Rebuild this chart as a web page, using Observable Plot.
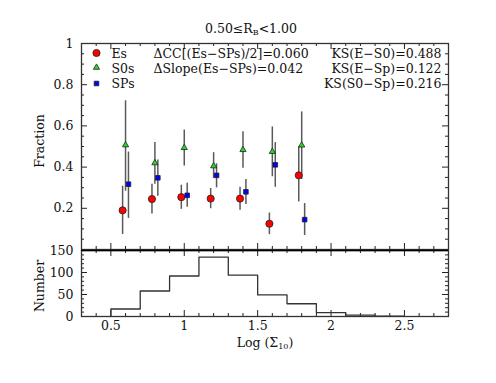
<!DOCTYPE html>
<html>
<head>
<meta charset="utf-8">
<script src="https://cdn.jsdelivr.net/npm/d3@7"></script>
<script src="https://cdn.jsdelivr.net/npm/@observablehq/plot@0.6"></script>
<style>
  html, body { margin: 0; padding: 0; background: #fff; }
  #wrap { position: relative; width: 496px; height: 383px; font-family: "DejaVu Serif", serif; color: #111; }
  #wrap svg { position: absolute; left: 0; overflow: visible; }
  .lbl { position: absolute; font-size: 12.5px; line-height: 1; white-space: nowrap; transform: translate(-50%, -50%); }
  .lbl.rot { transform: translate(-50%, -50%) rotate(-90deg); }
  .lbl sub { font-size: 8px; vertical-align: -2px; }
</style>
</head>
<body>
<div id="wrap"></div>
<script>
// ---------- data ----------
const esX  = [0.58, 0.78, 0.98, 1.18, 1.38, 1.58, 1.78];
const esF  = [0.190, 0.245, 0.254, 0.247, 0.247, 0.125, 0.360];
const esLo = [0.073, 0.172, 0.195, 0.198, 0.190, 0.072, 0.231];
const esHi = [0.307, 0.317, 0.312, 0.296, 0.302, 0.177, 0.500];

const s0X  = [0.60, 0.80, 1.00, 1.20, 1.40, 1.60, 1.80];
const s0F  = [0.507, 0.420, 0.494, 0.405, 0.484, 0.475, 0.506];
const s0Lo = [0.283, 0.317, 0.405, 0.345, 0.394, 0.353, 0.340];
const s0Hi = [0.722, 0.519, 0.580, 0.470, 0.571, 0.595, 0.668];

const spX  = [0.62, 0.82, 1.02, 1.22, 1.42, 1.62, 1.82];
const spF  = [0.317, 0.348, 0.263, 0.360, 0.280, 0.411, 0.145];
const spLo = [0.151, 0.259, 0.205, 0.299, 0.218, 0.302, 0.068];
const spHi = [0.473, 0.434, 0.322, 0.416, 0.340, 0.519, 0.223];

const binEdges  = [0.5, 0.7, 0.9, 1.1, 1.3, 1.5, 1.7, 1.9, 2.1, 2.3, 2.5];
const binCounts = [17, 58, 92, 135, 94, 49, 29, 9, 3, 1];

const xMajor = [0.5, 1, 1.5, 2, 2.5];
const xMinor = d3.range(4, 28).map(d => d / 10).filter(v => !xMajor.some(m => Math.abs(m - v) < 1e-9));
const yTopMajor = [0.2, 0.4, 0.6, 0.8, 1];
const yTopMinor = d3.range(1, 20).map(d => d / 20).filter(v => Math.abs(v * 5 - Math.round(v * 5)) > 1e-9);
const yBotMajor = [0, 50, 100, 150];
const yBotMinor = d3.range(10, 150, 10).filter(v => v % 50 !== 0);

const legendNames = ["Es", "S0s", "SPs"];
const midText = ["ΔCC[(Es−SPs)/2]=0.060", "ΔSlope(Es−SPs)=0.042"];
const ksText = ["KS(E−S0)=0.488", "KS(E−Sp)=0.122", "KS(S0−Sp)=0.216"];

// ---------- helpers ----------
const FONT = "DejaVu Serif";
const FS = 12.5;
const W = 496, ML = 81, MR = 48;
const FW = W - ML - MR;

function rows(xs, f, lo, hi) { return xs.map((x, i) => ({x, y: f[i], lo: lo[i], hi: hi[i]})); }
const es = rows(esX, esF, esLo, esHi);
const s0 = rows(s0X, s0F, s0Lo, s0Hi);
const sp = rows(spX, spF, spLo, spHi);

function frameTicks(fh, xMaj, xMin, yMaj, yMin, big = 6, small = 3) {
  const st = {stroke: "#222", strokeWidth: 1};
  return [
    Plot.tickX(xMaj, {...st, insetTop: fh - big}),
    Plot.tickX(xMin, {...st, insetTop: fh - small}),
    Plot.tickX(xMaj, {...st, insetBottom: fh - big}),
    Plot.tickX(xMin, {...st, insetBottom: fh - small}),
    Plot.tickY(yMaj, {...st, insetRight: FW - big}),
    Plot.tickY(yMin, {...st, insetRight: FW - small}),
    Plot.tickY(yMaj, {...st, insetLeft: FW - big}),
    Plot.tickY(yMin, {...st, insetLeft: FW - small})
  ];
}

const wrap = document.getElementById("wrap");

// ---------- top panel ----------
const topFH = 206;
const lineDy = [10, 25, 40];
const topPlot = Plot.plot({
  width: W, height: 43 + topFH + 1,
  marginTop: 43, marginBottom: 1, marginLeft: ML, marginRight: MR,
  style: {fontFamily: FONT, fontSize: FS + "px", background: "transparent"},
  x: {domain: [0.3, 2.8], axis: null},
  y: {domain: [0, 1], axis: null},
  marks: [
    ...frameTicks(topFH, xMajor, xMinor, yTopMajor, yTopMinor),
    Plot.axisY(yTopMajor, {tickSize: 0, tickPadding: 8, fontSize: FS, label: null,
      tickFormat: d => d === 1 ? "1" : d.toFixed(1)}),
    Plot.ruleX(es, {x: "x", y1: "lo", y2: "hi", stroke: "#5a5a5a", strokeWidth: 1.5}),
    Plot.ruleX(s0, {x: "x", y1: "lo", y2: "hi", stroke: "#5a5a5a", strokeWidth: 1.5}),
    Plot.ruleX(sp, {x: "x", y1: "lo", y2: "hi", stroke: "#5a5a5a", strokeWidth: 1.5}),
    Plot.dot(es, {x: "x", y: "y", r: 3.6, fill: "#ff0000", stroke: "#222", strokeWidth: 0.8}),
    Plot.dot(s0, {x: "x", y: "y", r: 2.3, symbol: "triangle", fill: "#22dd22", stroke: "#222", strokeWidth: 0.8}),
    Plot.dot(sp, {x: "x", y: "y", r: 2.6, symbol: "square", fill: "#0000ff", stroke: "#222", strokeWidth: 0.8}),
    // legend symbols
    Plot.dot([legendNames[0]], {frameAnchor: "top-left", dx: 15, dy: lineDy[0] - 0.5, r: 3.6, fill: "#ff0000", stroke: "#222", strokeWidth: 0.8}),
    Plot.dot([legendNames[1]], {frameAnchor: "top-left", dx: 15, dy: lineDy[1] - 1, r: 2.3, symbol: "triangle", fill: "#22dd22", stroke: "#222", strokeWidth: 0.8}),
    Plot.dot([legendNames[2]], {frameAnchor: "top-left", dx: 15, dy: lineDy[2], r: 2.6, symbol: "square", fill: "#0000ff", stroke: "#222", strokeWidth: 0.8}),
    ...legendNames.map((t, i) => Plot.text([t], {frameAnchor: "top-left", dx: 30, dy: lineDy[i], textAnchor: "start", lineAnchor: "middle", fontSize: FS, fill: "#111"})),
    ...midText.map((t, i) => Plot.text([t], {frameAnchor: "top-left", dx: 72, dy: lineDy[i], textAnchor: "start", lineAnchor: "middle", fontSize: FS, fill: "#111"})),
    ...ksText.map((t, i) => Plot.text([t], {frameAnchor: "top-right", dx: -7, dy: lineDy[i], textAnchor: "end", lineAnchor: "middle", fontSize: FS, fill: "#111"})),
    Plot.frame({stroke: "#333", strokeWidth: 1.3})
  ]
});
topPlot.style.top = "0px";
wrap.appendChild(topPlot);

// ---------- bottom panel ----------
const botFH = 66;
const steps = [{x: binEdges[0], y: 0}];
binCounts.forEach((c, i) => steps.push({x: binEdges[i], y: c}));
steps.push({x: binEdges[binEdges.length - 1], y: 0});

const botPlot = Plot.plot({
  width: W, height: 133,
  marginTop: 0, marginBottom: 133 - botFH, marginLeft: ML, marginRight: MR,
  style: {fontFamily: FONT, fontSize: FS + "px", background: "transparent"},
  x: {domain: [0.3, 2.8], axis: null},
  y: {domain: [0, 150], axis: null},
  marks: [
    ...frameTicks(botFH, xMajor, xMinor, yBotMajor, yBotMinor),
    Plot.axisY(yBotMajor, {tickSize: 0, tickPadding: 8, fontSize: FS, label: null}),
    Plot.axisX(xMajor, {tickSize: 0, tickPadding: 5, fontSize: FS, label: null, tickFormat: d => String(d)}),
    Plot.line(steps, {x: "x", y: "y", curve: "step-after", stroke: "#333", strokeWidth: 1.3}),
    Plot.frame({stroke: "#333", strokeWidth: 1.3}),
    Plot.ruleY([150], {stroke: "#000", strokeWidth: 1.5})
  ]
});
botPlot.style.top = "250px";
wrap.appendChild(botPlot);

// ---------- labels ----------
function addLabel(html, x, y, rot) {
  const d = document.createElement("div");
  d.className = rot ? "lbl rot" : "lbl";
  d.style.left = x + "px"; d.style.top = y + "px";
  d.innerHTML = html;
  wrap.appendChild(d);
}
addLabel("0.50≤R<sub>B</sub>&lt;1.00", 251, 30, false);
addLabel("Log (Σ<sub>10</sub>)", 265, 344, false);
addLabel("Fraction", 40, 141, true);
addLabel("Number", 40, 286, true);
</script>
</body>
</html>
